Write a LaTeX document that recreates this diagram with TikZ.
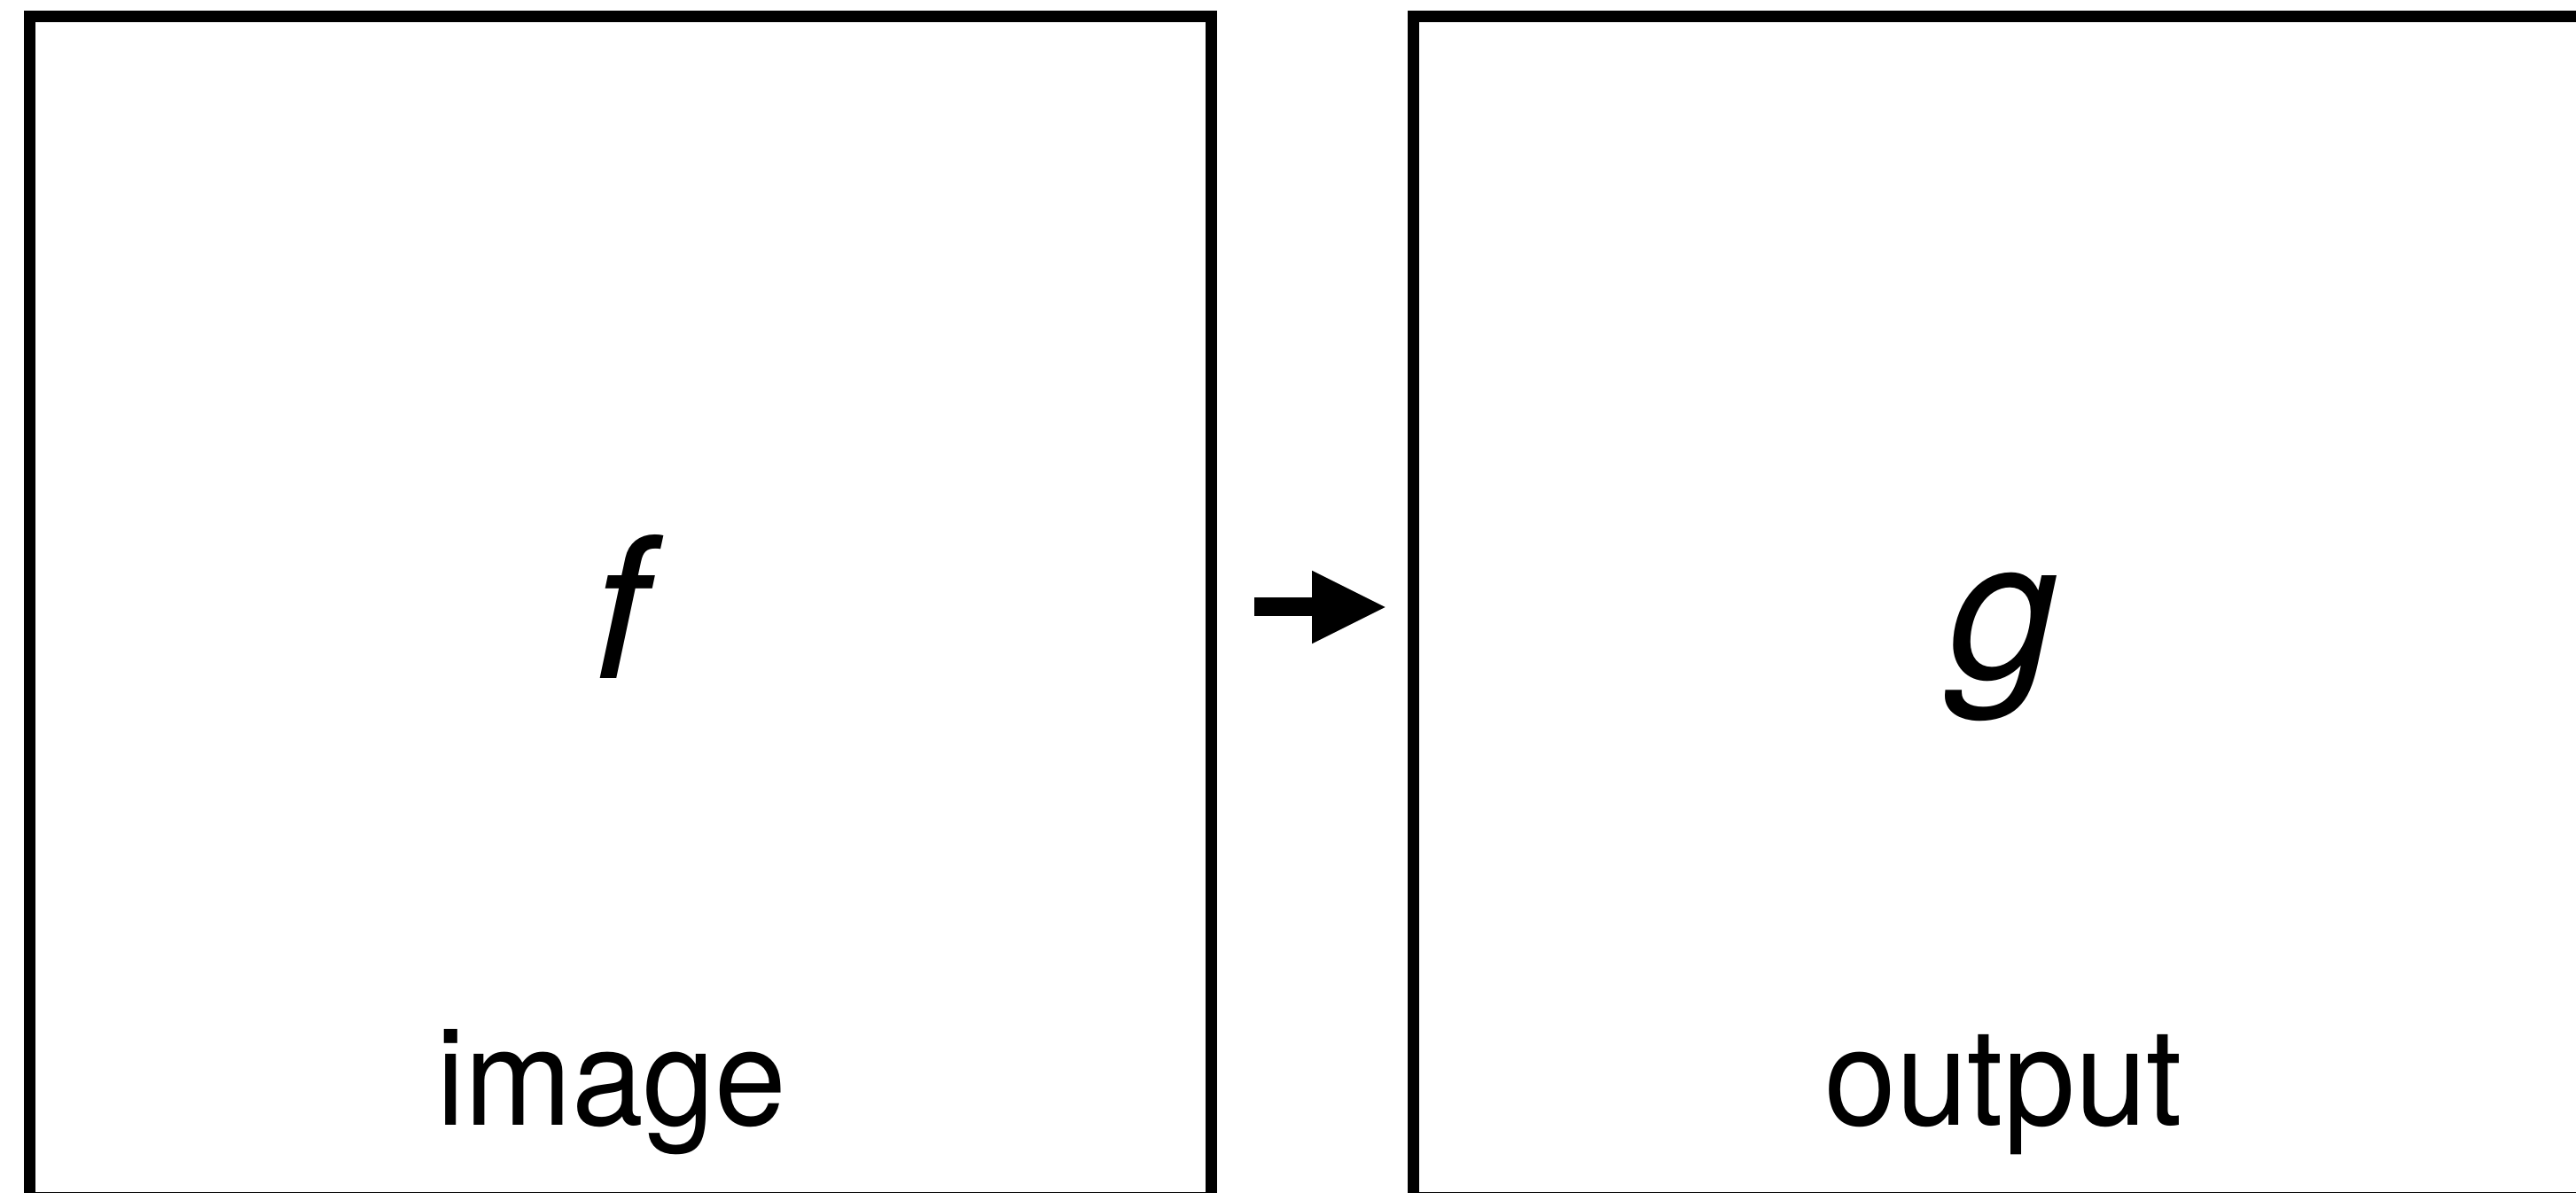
\documentclass[tikz,border=0pt]{standalone}
\usepackage{fontspec}
\setmainfont{TeX Gyre Heros}
\newfontfamily\capfont[FakeStretch=0.95]{TeX Gyre Heros}
\usetikzlibrary{positioning, arrows.meta}

\tikzset{
    frame/.style={draw, line width=0.13cm, minimum size=13.325cm, inner sep=0pt,
        text height=1.62cm, text depth=0pt, font=\fontsize{63}{70}\selectfont\itshape},
    caption/.style={anchor=base, font=\capfont\fontsize{43.5}{50}\selectfont},
    flow/.style={line width=0.21cm, -{Triangle[length=0.827cm, width=0.827cm, line width=0pt]},
        shorten <=0.425cm, shorten >=0.248cm}
}

\begin{document}
\begin{tikzpicture}
    \useasboundingbox (0,0) rectangle (29.06,-13.46);
    \node[frame] (img) at (6.9975,-6.85) {f};
    \node[frame, right=2.15cm of img] (out) {g};
    \node[caption] (imgtxt) at ([xshift=-0.1cm, yshift=0.88cm]img.south) {image};
    \node[caption] (outtxt) at ([yshift=0.88cm]out.south) {output};
    \draw[flow] (img.east) -- (out.west);
\end{tikzpicture}
\end{document}
